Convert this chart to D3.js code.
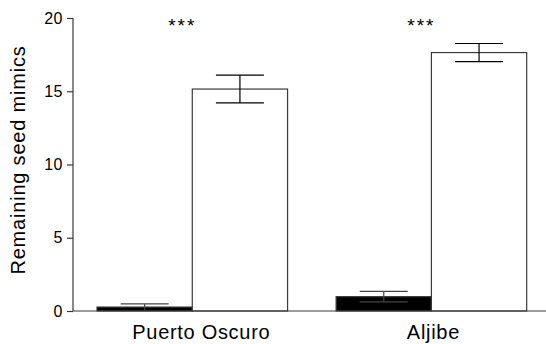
<!DOCTYPE html>
<html>
<head>
<meta charset="utf-8">
<script src="https://cdn.jsdelivr.net/npm/d3@7"></script>
<style>
  body { margin: 0; background: #fff; }
  svg { display: block; font-family: "Liberation Sans", Arial, sans-serif; }
</style>
</head>
<body>
<svg width="546" height="344"></svg>
<script>
(() => {
  // chart values
  const sites = ["Puerto Oscuro", "Aljibe"];
  const treatments = ["black", "white"];
  const meanBlack = [0.27, 0.98];
  const errBlack = [0.21, 0.36];
  const meanWhite = [15.15, 17.64];
  const errWhite = [0.95, 0.62];
  const yTicks = [0, 5, 10, 15, 20];
  const stars = ["***", "***"];

  const fills = { black: "#000", white: "#fff" };
  // the site labels sit a little off their group centre in the original
  const labelShift = [9, 2];

  const svg = d3.select("svg");
  const margin = { top: 18, right: 0, bottom: 33, left: 73 };
  const width = +svg.attr("width") - margin.left - margin.right;
  const height = +svg.attr("height") - margin.top - margin.bottom;
  const g = svg.append("g").attr("transform", "translate(" + margin.left + "," + margin.top + ")");

  const bars = [];
  sites.forEach((site, i) => {
    bars.push({ site: site, treatment: "black", value: meanBlack[i], err: errBlack[i] });
    bars.push({ site: site, treatment: "white", value: meanWhite[i], err: errWhite[i] });
  });

  const x0 = d3.scaleBand()
      .domain(sites)
      .range([24, 453.7])
      .paddingInner(0.203)
      .paddingOuter(0);

  const x1 = d3.scaleBand()
      .domain(treatments)
      .range([0, x0.bandwidth()])
      .padding(0);

  const y = d3.scaleLinear()
      .domain([0, 20])
      .range([height, 0]);

  // bars
  g.selectAll(".bar")
    .data(bars)
    .enter().append("rect")
      .attr("class", "bar")
      .attr("x", d => x0(d.site) + x1(d.treatment))
      .attr("y", d => y(d.value))
      .attr("width", x1.bandwidth())
      .attr("height", d => y(0) - y(d.value))
      .attr("fill", d => fills[d.treatment])
      .attr("stroke", "#3a3a3a")
      .attr("stroke-width", 1.2);

  // error bars
  const capW = 48;
  const err = g.selectAll(".err")
    .data(bars)
    .enter().append("g")
      .attr("class", "err")
      .attr("stroke", d => d.treatment === "black" ? "#444" : "#000")
      .attr("stroke-width", 1.2);

  const cx = d => x0(d.site) + x1(d.treatment) + x1.bandwidth() / 2;

  err.append("line")
      .attr("x1", cx).attr("x2", cx)
      .attr("y1", d => y(d.value + d.err))
      .attr("y2", d => y(Math.max(0, d.value - d.err)));

  err.append("line")
      .attr("x1", d => cx(d) - capW / 2).attr("x2", d => cx(d) + capW / 2)
      .attr("y1", d => y(d.value + d.err))
      .attr("y2", d => y(d.value + d.err));

  err.filter(d => d.value - d.err > 0.5).append("line")
      .attr("x1", d => cx(d) - capW / 2).attr("x2", d => cx(d) + capW / 2)
      .attr("y1", d => y(d.value - d.err))
      .attr("y2", d => y(d.value - d.err));

  // axes
  const yAxis = g.append("g")
      .attr("class", "axis axis--y")
      .call(d3.axisLeft(y).tickValues(yTicks).tickSize(6).tickPadding(4));
  yAxis.select(".domain").attr("stroke", "#3a3a3a").attr("stroke-width", 1.2)
      .attr("d", "M0," + y(20) + "V" + y(0));
  yAxis.selectAll(".tick line").attr("stroke", "#3a3a3a").attr("stroke-width", 1.2);
  yAxis.selectAll(".tick text")
      .attr("font-size", 16)
      .attr("letter-spacing", 0.5)
      .attr("font-family", "Liberation Sans, Arial, sans-serif")
      .attr("fill", "#000");

  g.append("line")
      .attr("x1", 0).attr("x2", width)
      .attr("y1", y(0)).attr("y2", y(0))
      .attr("stroke", "#3a3a3a")
      .attr("stroke-width", 1.2);

  g.selectAll(".site-label")
    .data(sites)
    .enter().append("text")
      .attr("class", "site-label")
      .attr("x", (d, i) => x0(d) + x0.bandwidth() / 2 + labelShift[i])
      .attr("y", height + 28)
      .attr("text-anchor", "middle")
      .attr("font-size", 20)
      .attr("letter-spacing", 0.7)
      .text(d => d);

  // significance
  g.selectAll(".stars")
    .data(sites)
    .enter().append("text")
      .attr("class", "stars")
      .attr("x", (d, i) => x0(d) + x0.bandwidth() / 2 - 10)
      .attr("y", 14)
      .attr("text-anchor", "middle")
      .attr("font-size", 19)
      .attr("letter-spacing", 2)
      .text((d, i) => stars[i]);

  // y label
  svg.append("text")
      .attr("transform", "rotate(-90)")
      .attr("x", -160)
      .attr("y", 25)
      .attr("text-anchor", "middle")
      .attr("font-size", 20)
      .attr("letter-spacing", 0.8)
      .text("Remaining seed mimics");
})();
</script>
</body>
</html>
